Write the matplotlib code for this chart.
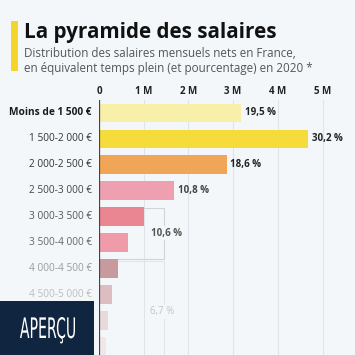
import matplotlib
matplotlib.use("Agg")
import matplotlib.pyplot as plt
from matplotlib.patches import Rectangle, PathPatch
from matplotlib.textpath import TextPath
from matplotlib.font_manager import FontProperties
from matplotlib.transforms import Affine2D

# --- données ---
categories = ["Moins de 1 500 €", "1 500-2 000 €", "2 000-2 500 €", "2 500-3 000 €",
              "3 000-3 500 €", "3 500-4 000 €", "4 000-4 500 €", "4 500-5 000 €",
              "5 000-5 500 €", "5 500-6 000 €"]
salaries_m = [3.18, 4.68, 2.86, 1.68, 1.00, 0.65, 0.43, 0.29, 0.20, 0.15]   # millions de salariés
pct_labels = ["19,5 %", "30,2 %", "18,6 %", "10,8 %"]
group_pct = ["10,6 %", "6,7 %"]       # 3 000-4 000 € et 4 000 € +
ticks = [0, 1, 2, 3, 4, 5]
tick_labels = ["0", "1 M", "2 M", "3 M", "4 M", "5 M"]

bar_colors = ["#f8efa8", "#f6dc3a", "#f0a656", "#eea0b0", "#ea8592",
              "#ef9ba9", "#c79a9e", "#dcbdc2", "#ead9dc", "#f0e7ea"]
label_colors = ["#1a1a1a", "#333333", "#333333", "#444444", "#555555",
                "#666666", "#9a9a9a", "#bdbdbd", "#d6d6d6", "#e6e6e6"]

BG = "#f4f7fa"
FONT = "Open Sans"
W = H = 355.0

fig = plt.figure(figsize=(3.55, 3.55), dpi=100)
fig.patch.set_facecolor(BG)

# axes : x=0 à 99 px, 1 M = 44.7 px ; lignes tous les 26 px
ax = fig.add_axes([99 / W, 0, (W - 99) / W, 255 / H])
ax.set_facecolor(BG)
y = list(range(len(categories)))
ax.barh(y, salaries_m, height=0.73, color=bar_colors, zorder=3)
ax.set_xlim(0, (W - 99) / 44.7)
ax.set_ylim(9.31, -0.5)

ax.set_xticks(ticks)
ax.set_xticklabels(tick_labels, fontsize=7, fontweight="bold", color="#222222", family=FONT)
ax.xaxis.set_ticks_position("top")
ax.tick_params(axis="x", length=0, pad=2)
ax.set_yticks([])
for xv in ticks[1:]:
    ax.axvline(xv, color="#dfe4ea", lw=0.8, zorder=1)
ax.axvline(0, color="#444444", lw=0.9, zorder=4)
for s in ax.spines.values():
    s.set_visible(False)

for i, (cat, col) in enumerate(zip(categories, label_colors)):
    ax.text(-0.16, i, cat, ha="right", va="center", fontsize=7.3, color=col, family=FONT,
            fontweight="bold" if i == 0 else "normal")

for i, lab in enumerate(pct_labels):
    ax.text(salaries_m[i] + 0.08, i, lab, ha="left", va="center", fontsize=7,
            fontweight="bold", color="#222222" if i < 3 else "#444444", family=FONT)

# accolades pour les regroupements
xb = 1.455
ax.plot([salaries_m[4], xb, xb, 0], [3.65, 3.65, 5.6, 5.6], color="#cfd4da", lw=0.8, zorder=2)
ax.text(xb + 0.05, 4.62, group_pct[0], ha="center", va="center", fontsize=7, fontweight="bold",
        color="#555555", family=FONT, zorder=5,
        bbox=dict(boxstyle="square,pad=0.15", fc=BG, ec="none"))
ax.plot([salaries_m[6], xb, xb], [5.68, 5.68, 9.4], color="#e2e6eb", lw=0.8, zorder=2)
ax.text(xb - 0.05, 7.65, group_pct[1], ha="center", va="center", fontsize=7,
        color="#c4c4c4", family=FONT, zorder=5,
        bbox=dict(boxstyle="square,pad=0.15", fc=BG, ec="none"))

# titre
fig.add_artist(Rectangle((11 / W, 1 - 71 / H), 7 / W, 50 / H, transform=fig.transFigure,
                         color="#f5d42c", lw=0))
fig.text(24 / W, 1 - 38 / H, "La pyramide des salaires", fontsize=14.9, fontweight="bold",
         color="#111111", family=FONT, va="baseline")
fig.text(24 / W, 1 - 57 / H, "Distribution des salaires mensuels nets en France,",
         fontsize=8.4, color="#555555", family=FONT, va="baseline")
fig.text(24 / W, 1 - 72 / H, "en équivalent temps plein (et pourcentage) en 2020 *",
         fontsize=8.4, color="#555555", family=FONT, va="baseline")

# badge "APERÇU" (texte condensé dessiné comme un chemin)
fig.add_artist(Rectangle((0, 0), 94 / W, 54 / H, transform=fig.transFigure,
                         color="#0f2540", lw=0, zorder=10))
tp = TextPath((0, 0), "APERÇU", size=1, prop=FontProperties(family="DejaVu Sans"))
bb = tp.get_extents()
sx = 55 / bb.width
sy = 21 / (bb.height - (0 - bb.y0))
tr = (Affine2D().translate(-bb.x0, 0).scale(sx, sy).translate(20, 55 - 38)
      + fig.dpi_scale_trans.frozen().scale(1 / fig.dpi))
fig.add_artist(PathPatch(tp, transform=tr, color="white", lw=0, zorder=11))

fig.savefig("out.png", dpi=100, facecolor=BG)
